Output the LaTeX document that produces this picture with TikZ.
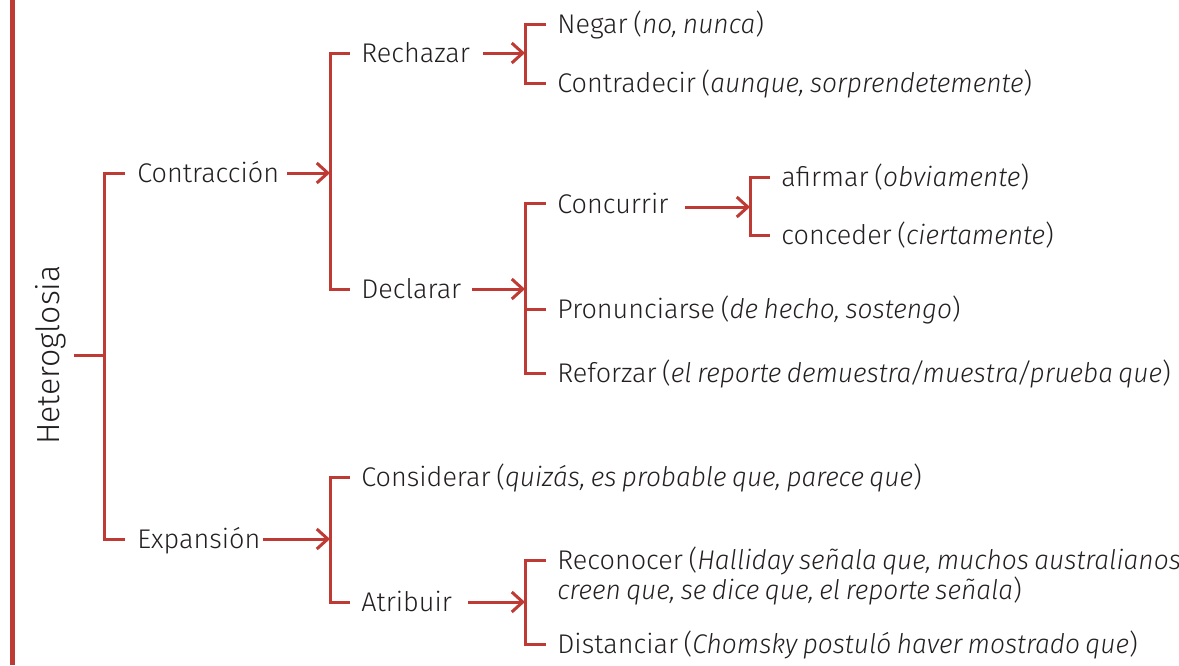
\documentclass[tikz,border=0pt]{standalone}
\usepackage{fontspec}
\setmainfont{Fira Sans Light}[ItalicFont={Fira Sans Light Italic}, WordSpace=0.75, ItalicFeatures={FakeStretch=0.975}]
\usetikzlibrary{arrows.meta}
\definecolor{rojo}{HTML}{BE3A34}
\definecolor{texto}{HTML}{231F20}
\newcommand{\slsh}{\kern-0.6pt/\kern-0.6pt}
\tikzset{
  br/.style={draw=rojo, line width=1.5pt, line join=miter},
  arr/.style={draw=rojo, line width=1.5pt, -{Straight Barb[length=5.5pt,width=10pt,line width=1.5pt]}},
  lbl/.style={anchor=west, inner sep=0pt, text=texto, font=\fontsize{13.5}{15}\selectfont, text height=9.5pt, text depth=0pt},
}
\begin{document}
\begin{tikzpicture}[x=0.5pt,y=-0.5pt]
\useasboundingbox (0,0) rectangle (1179,665);
\draw[rojo, line width=2.5pt] (12.5,0) -- (12.5,665);

% nodes
\node[lbl, anchor=center, rotate=90, font=\fontsize{16}{18}\selectfont, text height=11pt] (het) at (48,355) {Heteroglosia};
\node[lbl] (contr) at (137,173) {Contracción};
\node[lbl] (expan) at (137,539) {Expansión};
\node[lbl] (rech) at (361,53) {Rechazar};
\node[lbl] (decl) at (361,289) {Declarar};
\node[lbl] (neg) at (557,24) {Negar (\textit{no, nunca})};
\node[lbl] (contrad) at (557,83) {Contradecir (\textit{aunque, sorprendetemente})};
\node[lbl] (conc) at (557,204) {Concurrir};
\node[lbl] (pron) at (557,309) {Pronunciarse (\textit{de hecho, sostengo})};
\node[lbl] (ref) at (557,373) {Reforzar (\textit{el reporte demuestra\slsh muestra\slsh prueba que})};
\node[lbl] (afir) at (781,177) {afirmar (\textit{obviamente})};
\node[lbl] (conce) at (781,235) {conceder (\textit{ciertamente})};
\node[lbl] (cons) at (361,477) {Considerar (\textit{quizás, es probable que, parece que})};
\node[lbl] (atri) at (361,602) {Atribuir};
\node[lbl, text depth=, anchor=base west] (recon) at (557,569) {\vtop{\hbox{Reconocer (\textit{Halliday señala que, muchos australianos}}\hbox{\textit{creen que, se dice que, el reporte señala})}}};
\node[lbl] (dist) at (557,644) {Distanciar (\textit{Chomsky postuló haver mostrado que})};

% arrow start points
\coordinate (a1) at (287,173);
\coordinate (a2) at (263,539);
\coordinate (a3) at (483,53);
\coordinate (a4) at (472,289);
\coordinate (a5) at (685,207);
\coordinate (a6) at (468,602);
\coordinate (h0) at (74,355);

% Heteroglosia bracket
\draw[br] (h0) -- (104,355);
\draw[br] ([xshift=-6pt]contr.west) -- (104,173) -- (104,539) -- ([xshift=-6pt]expan.west);
% Contraccion
\draw[arr] (a1) -- (330,173);
\draw[br] ([xshift=-5.5pt]rech.west) -- (330,53) -- (330,289) -- ([xshift=-5.5pt]decl.west);
% Rechazar
\draw[arr] (a3) -- (525,53);
\draw[br] ([xshift=-5.5pt]neg.west) -- (525,24) -- (525,83) -- ([xshift=-5.5pt]contrad.west);
% Declarar
\draw[arr] (a4) -- (525,289);
\draw[br] ([xshift=-5.5pt]conc.west |- 0,203) -- (525,203) -- (525,373) -- ([xshift=-5.5pt]ref.west);
\draw[br] (525,309) -- ([xshift=-5.5pt]pron.west);
% Concurrir
\draw[arr] (a5) -- (750,207);
\draw[br] ([xshift=-5.5pt]afir.west) -- (750,177) -- (750,235) -- ([xshift=-5.5pt]conce.west);
% Expansion
\draw[arr] (a2) -- (330,539);
\draw[br] ([xshift=-5.5pt]cons.west) -- (330,477) -- (330,602) -- ([xshift=-5.5pt]atri.west);
% Atribuir
\draw[arr] (a6) -- (525,602);
\draw[br] ([xshift=-5.5pt]recon.west |- 0,560) -- (525,560) -- (525,644) -- ([xshift=-5.5pt]dist.west);
\end{tikzpicture}
\end{document}
